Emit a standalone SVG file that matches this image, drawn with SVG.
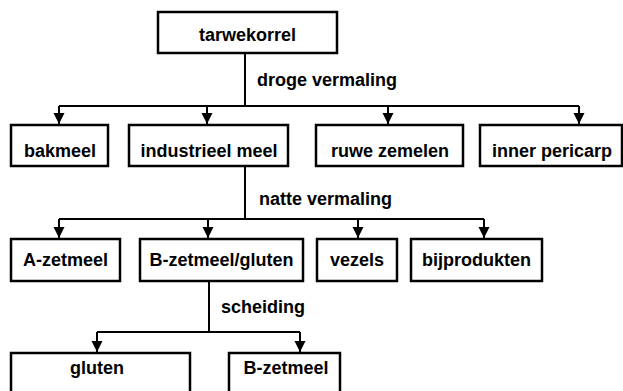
<svg xmlns="http://www.w3.org/2000/svg" width="623" height="391" viewBox="0 0 623 391">
<style>
.box{fill:#fff;stroke:#000;stroke-width:2.5}
.t{font-family:"Liberation Sans",Arial,sans-serif;font-weight:bold;font-size:18px;fill:#000}
.c{text-anchor:middle}
.ln{fill:none;stroke:#000;stroke-width:2}
</style>
<defs>
<marker id="ah" viewBox="0 0 10 10" refX="10" refY="5" markerWidth="11" markerHeight="12" markerUnits="userSpaceOnUse" orient="auto">
<path d="M0,0 L10,5 L0,10 z" fill="#000"/>
</marker>
</defs>
<rect width="623" height="391" fill="#fff"/>
<g id="connectors">
<path class="ln" d="M245,53 V106 M59,106 H579"/>
<path class="ln" d="M59,106 V124" marker-end="url(#ah)"/>
<path class="ln" d="M207,106 V124" marker-end="url(#ah)"/>
<path class="ln" d="M388,106 V124" marker-end="url(#ah)"/>
<path class="ln" d="M579,106 V124" marker-end="url(#ah)"/>
<text class="t" x="257" y="86">droge vermaling</text>
<path class="ln" d="M245,166 V219 M59,219 H484"/>
<path class="ln" d="M59,219 V238" marker-end="url(#ah)"/>
<path class="ln" d="M208,219 V238" marker-end="url(#ah)"/>
<path class="ln" d="M358,219 V238" marker-end="url(#ah)"/>
<path class="ln" d="M484,219 V238" marker-end="url(#ah)"/>
<text class="t" x="259" y="205">natte vermaling</text>
<path class="ln" d="M209,281 V332 M97,332 H300"/>
<path class="ln" d="M97,332 V352" marker-end="url(#ah)"/>
<path class="ln" d="M300,332 V352" marker-end="url(#ah)"/>
<text class="t" x="221" y="313">scheiding</text>
</g>
<g id="tarwekorrel"><rect class="box" x="158" y="12" width="179" height="41"/><text class="t c" x="247.5" y="41">tarwekorrel</text></g>
<g id="bakmeel"><rect class="box" x="11" y="125" width="97" height="41"/><text class="t c" x="60" y="157">bakmeel</text></g>
<g id="industrieel-meel"><rect class="box" x="129" y="125" width="159" height="41"/><text class="t c" x="209" y="157">industrieel meel</text></g>
<g id="ruwe-zemelen"><rect class="box" x="316" y="125" width="147" height="41"/><text class="t c" x="390" y="157">ruwe zemelen</text></g>
<g id="inner-pericarp"><rect class="box" x="480" y="125" width="142" height="41"/><text class="t c" x="552" y="157">inner pericarp</text></g>
<g id="a-zetmeel"><rect class="box" x="11" y="239" width="109" height="42"/><text class="t c" x="65.5" y="266">A-zetmeel</text></g>
<g id="b-zetmeel-gluten"><rect class="box" x="140" y="239" width="163" height="42"/><text class="t c" x="221.5" y="266">B-zetmeel/gluten</text></g>
<g id="vezels"><rect class="box" x="317" y="239" width="80" height="42"/><text class="t c" x="357" y="266">vezels</text></g>
<g id="bijprodukten"><rect class="box" x="411" y="239" width="131" height="42"/><text class="t c" x="476.5" y="266">bijprodukten</text></g>
<g id="gluten"><rect class="box" x="11" y="353" width="179" height="50"/><text class="t c" x="97" y="374">gluten</text></g>
<g id="b-zetmeel"><rect class="box" x="229" y="353" width="111" height="50"/><text class="t c" x="286" y="374">B-zetmeel</text></g>
</svg>
